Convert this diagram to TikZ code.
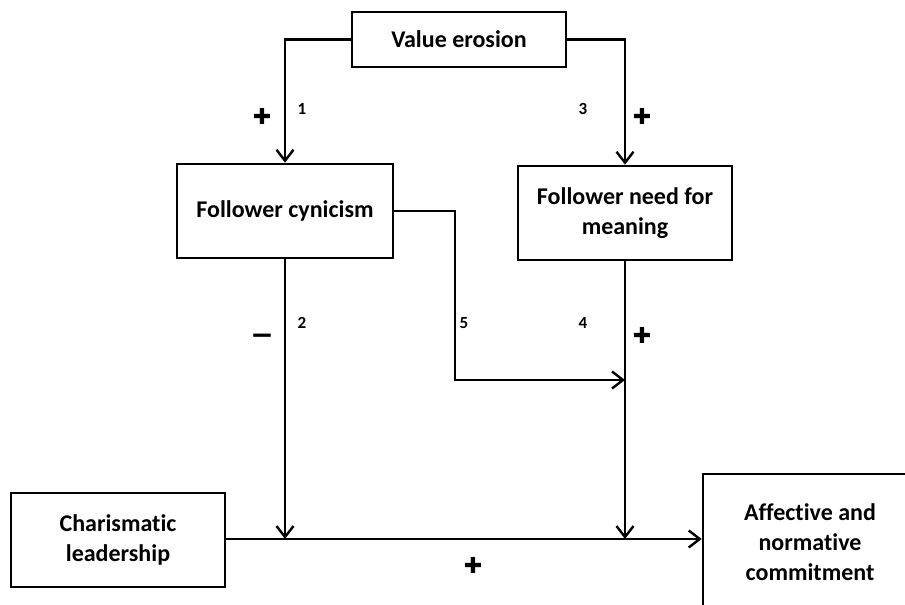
\documentclass[tikz,border=0pt]{standalone}
\usepackage{fontspec}
\setmainfont{Carlito}[Ligatures=NoCommon]
\newfontfamily\symfont{DejaVu Sans}
\usetikzlibrary{arrows.meta}
\tikzset{
  box/.style={draw, line width=2.6pt, minimum width=214pt, inner sep=0pt, align=center,
    font=\fontsize{24}{30}\selectfont\bfseries},
  conn/.style={line width=2.4pt},
  arr/.style={conn, -{Straight Barb[length=11pt,width=17pt,line width=2.4pt]}},
  num/.style={font=\fontsize{17}{18}\selectfont\bfseries, inner sep=0pt},
  sign/.style={font=\fontsize{22}{22}\selectfont\symfont, inner sep=0pt},
  minussign/.style={font=\fontsize{28}{28}\selectfont\symfont\bfseries, inner sep=0pt}
}
\begin{document}
\begin{tikzpicture}[x=1pt,y=-1pt]
\clip (0,0) rectangle (905,605);
\fill[white] (0,0) rectangle (905,605);
\node[box, minimum height=55pt] (ve) at (459,39.5) {Value erosion};
\node[box, minimum width=216pt, minimum height=94pt] (fc) at (285,211) {Follower cynicism};
\node[box, minimum height=94pt] (fn) at (625,213) {Follower need for\\meaning};
\node[box, minimum height=94pt] (cl) at (118,540) {Charismatic\\leadership};
\node[box, minimum height=136pt] (an) at (810,542) {Affective and\\normative\\commitment};
\coordinate (j1) at (285,539);
\coordinate (j2) at (625,539);
\coordinate (m1) at (455,380);
\coordinate (m2) at (625,380);
\draw[arr] (ve.west) -| (fc.north);
\draw[arr] (ve.east) -| (fn.north);
\draw[arr] (fc.south) -- (j1);
\draw[arr] (fn.south) -- (j2);
\draw[arr] (fc.east) -| (m1) -- (m2);
\draw[arr] (cl.east |- j1) -- (an.west |- j1);
\node[sign] (p1) at (262,116) {✚};
\node[num] (n1) at (302,109) {1};
\node[num] (n3) at (583,109) {3};
\node[sign] (p3) at (642,116) {✚};
\node[minussign] (p2) at (262,339) {−};
\node[num] (n2) at (302,323) {2};
\node[num] (n5) at (464,323) {5};
\node[num] (n4) at (583,323) {4};
\node[sign] (p4) at (642,335) {✚};
\node[sign] (p6) at (473,565) {✚};
\end{tikzpicture}
\end{document}
